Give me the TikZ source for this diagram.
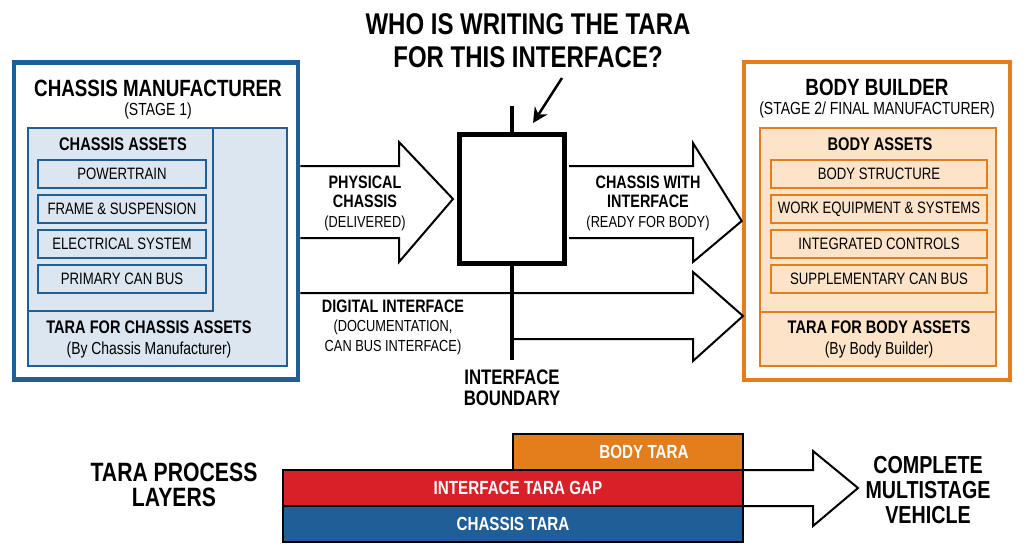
\documentclass[tikz,border=0pt]{standalone}
\usepackage{fontspec}
\setmainfont[FakeStretch=0.8]{Liberation Sans}
\usepackage{tikz}
\usetikzlibrary{arrows.meta,positioning}
\definecolor{cblue}{HTML}{1F5E96}
\definecolor{cbluefill}{HTML}{DCE6F1}
\definecolor{corange}{HTML}{E47D1C}
\definecolor{corangefill}{HTML}{FDE3C7}
\definecolor{cred}{HTML}{D92028}
\newcommand\fsz[2]{\fontsize{#1}{#2}\selectfont}
\tikzstyle{frame} = [draw,line width=4.5pt,fill=white,inner sep=0]
\tikzstyle{panel} = [draw,line width=1.5pt,inner sep=0]
\tikzstyle{item} = [draw,line width=1.5pt,inner sep=0,minimum height=28pt,font=\fsz{16.5}{18}]
\tikzstyle{headtxt} = [font=\bfseries\fsz{23.5}{25}]
\tikzstyle{subtxt} = [font=\fsz{17.5}{19}]
\tikzstyle{astitle} = [font=\bfseries\fsz{18.3}{20}]
\tikzstyle{taratxt} = [align=center,font=\fsz{17.4}{21}]
\tikzstyle{flowtxt} = [align=center,font=\fsz{16}{19.5}]
\tikzstyle{block} = [draw,line width=2pt,fill=white,line join=miter]
\tikzstyle{bound} = [line width=4pt]
\tikzstyle{bar} = [draw,line width=1.5pt,inner sep=0,minimum height=36pt]
\tikzstyle{bartxt} = [text=white,font=\bfseries\fsz{19}{20}]
\def \itw {168pt}
\def \itwr {216pt}

\begin{document}
\begin{tikzpicture}[x=1pt,y=-1pt]
  \useasboundingbox (0,0) rectangle (1024,558);
  % question
  \node[align=center,font=\bfseries\fsz{30}{33}] (question) at (528,41) {WHO IS WRITING THE TARA\\FOR THIS INTERFACE?};

  % chassis manufacturer
  \node[frame,draw=cblue,minimum width=284pt,minimum height=317pt] (chassis) at (156,221) {};
  \node[headtxt] (cmtitle) at (158,88) {CHASSIS MANUFACTURER};
  \node[subtxt] (cmstage) at (158,111) {(STAGE 1)};
  \node[panel,draw=cblue,fill=cbluefill,minimum width=259pt,minimum height=238pt] (cpanel) at (157.5,247) {};
  \node[panel,draw=cblue,fill=cbluefill,minimum width=185pt,minimum height=183pt] (cassets) at (120.5,219.5) {};
  \node[astitle] (catitle) at (123,144) {CHASSIS ASSETS};
  \node[item,draw=cblue,minimum width=\itw] (powertrain) at (122,174) {POWERTRAIN};
  \node[item,draw=cblue,minimum width=\itw] (frame) at (122,209) {FRAME \& SUSPENSION};
  \node[item,draw=cblue,minimum width=\itw] (electrical) at (122,244) {ELECTRICAL SYSTEM};
  \node[item,draw=cblue,minimum width=\itw] (primarycan) at (122,279) {PRIMARY CAN BUS};
  \node[taratxt] (ctara) at (149,339) {\textbf{\fsz{18.2}{21}TARA FOR CHASSIS ASSETS}\\(By Chassis Manufacturer)};

  % body builder
  \node[frame,draw=corange,minimum width=266pt,minimum height=318pt] (body) at (877,221) {};
  \node[headtxt] (bbtitle) at (877,87) {BODY BUILDER};
  \node[subtxt] (bbstage) at (877,110) {(STAGE 2/ FINAL MANUFACTURER)};
  \node[panel,draw=corange,fill=corangefill,minimum width=236pt,minimum height=238pt] (bpanel) at (878,247) {};
  \node[panel,draw=corange,fill=corangefill,minimum width=236pt,minimum height=184pt] (bassets) at (878,220) {};
  \node[astitle] (batitle) at (880,144) {BODY ASSETS};
  \node[item,draw=corange,minimum width=\itwr] (structure) at (879,174) {BODY STRUCTURE};
  \node[item,draw=corange,minimum width=\itwr] (equipment) at (879,209) {WORK EQUIPMENT \& SYSTEMS};
  \node[item,draw=corange,minimum width=\itwr] (controls) at (879,244) {INTEGRATED CONTROLS};
  \node[item,draw=corange,minimum width=\itwr] (suppcan) at (879,279) {SUPPLEMENTARY CAN BUS};
  \node[taratxt] (btara) at (879,339) {\textbf{\fsz{18.2}{21}TARA FOR BODY ASSETS}\\(By Body Builder)};

  % interface
  \node[draw,line width=5pt,minimum width=105pt,minimum height=129pt] (iface) at (512,199) {};
  \draw[block] (chassis.east |- 0,166) -- (399,166) -- (399,142) -- ([xshift=-4pt]iface.west) -- (399,262) -- (399,238) -- (chassis.east |- 0,238);
  \draw[block] ([xshift=2pt]iface.east |- 0,166) -- (693,166) -- (693,143) -- (body.west) -- (693,262) -- (693,238) -- ([xshift=2pt]iface.east |- 0,238);
  \draw[block] (chassis.east |- 0,293) -- (693,293) -- (693,272) -- (743,316) -- (693,361) -- (693,339) -- (512,339);
  \draw[bound] (512,106) -- (iface.north);
  \draw[bound] (iface.south) -- (512,360);
  \draw[line width=2.5pt,-{Stealth[length=15pt,width=15pt]}] (562,78) -- ([xshift=21pt,yshift=9pt]iface.north);
  \node[flowtxt] (physical) at (365,203) {\textbf{\fsz{18}{19.5}PHYSICAL}\\\textbf{\fsz{18}{19.5}CHASSIS}\\(DELIVERED)};
  \node[flowtxt] (ready) at (648,203) {\textbf{\fsz{18}{19.5}CHASSIS WITH}\\\textbf{\fsz{18}{19.5}INTERFACE}\\(READY FOR BODY)};
  \node[flowtxt] (digital) at (393,327) {\textbf{\fsz{18}{19.5}DIGITAL INTERFACE}\\(DOCUMENTATION,\\CAN BUS INTERFACE)};
  \node[align=center,font=\bfseries\fsz{21}{21}] (boundary) at (512,388) {INTERFACE\\BOUNDARY};

  % tara layers
  \node[align=center,font=\bfseries\fsz{26.5}{25}] (layers) at (174,485) {TARA PROCESS\\LAYERS};
  \draw[block] (743,470) -- (813,470) -- (813,451) -- (858,488) -- (813,526) -- (813,506) -- (743,506);
  \node[bar,fill=corange,minimum width=230pt] (bodytara) at (628,452) {};
  \node[bar,fill=cred,minimum width=460pt] (gaptara) at (513,488) {};
  \node[bar,fill=cblue,minimum width=460pt] (chassistara) at (513,524) {};
  \node[bartxt] at ([xshift=16pt]bodytara.center) {BODY TARA};
  \node[bartxt] at ([xshift=5pt]gaptara.center) {INTERFACE TARA GAP};
  \node[bartxt] at (chassistara.center) {CHASSIS TARA};
  \node[align=center,font=\bfseries\fsz{24.6}{25}] (vehicle) at (928,490) {COMPLETE\\MULTISTAGE\\VEHICLE};
\end{tikzpicture}
\end{document}
